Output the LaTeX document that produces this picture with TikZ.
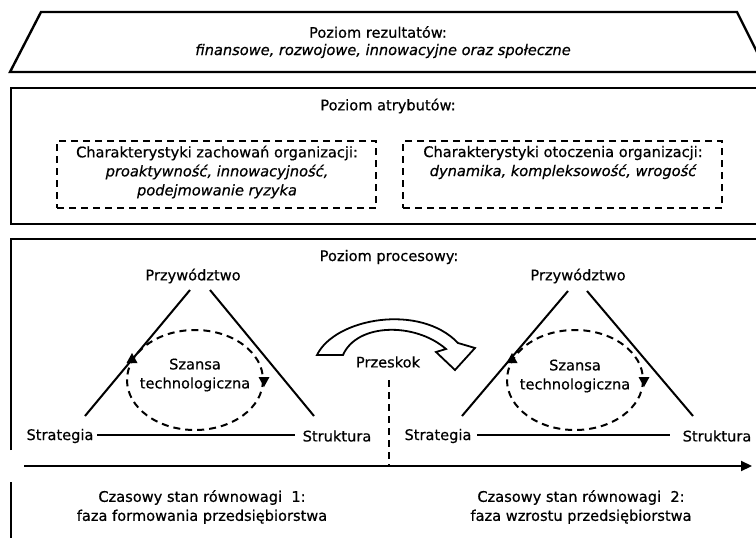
\documentclass[tikz,border=0pt]{standalone}
\usepackage{fontspec}
\setmainfont{DejaVu Sans}[UprightFeatures={FakeBold=0.6}, ItalicFeatures={FakeBold=0.6}]
\usetikzlibrary{arrows.meta}
\begin{document}
\begin{tikzpicture}[x=1pt,y=-1pt,
  txt/.style={font=\fontsize{14.6}{19}\selectfont, inner sep=0pt, align=center, text=black},
  frame/.style={draw=black, line width=2.4pt},
  dbox/.style={draw=black, line width=2.2pt, dash pattern=on 7pt off 5pt},
  side/.style={draw=black, line width=2pt},
  dline/.style={draw=black, line width=2pt, dash pattern=on 7pt off 5pt},
  tip/.style={fill=black, draw=none}]
\useasboundingbox (0,0) rectangle (756,538);
\clip (0,0) rectangle (756,538);

% ---------- level of results ----------
\draw[frame, line join=miter] (41,12) -- (737,12) -- (767,72) -- (10,72) -- cycle;
\node[txt] (res) at (378,32) {Poziom rezultatów:};
\node[txt] (resdesc) at (383,51) {\itshape finansowe, rozwojowe, innowacyjne oraz społeczne};

% ---------- level of attributes ----------
\draw[frame] (11,88) rectangle (775,224);
\node[txt] (attr) at (388,106) {Poziom atrybutów:};
\node[dbox, minimum width=319pt, minimum height=67pt, inner sep=0pt] (box1) at (216.5,174.5) {};
\node[dbox, minimum width=319pt, minimum height=67pt, inner sep=0pt] (box2) at (562.5,174.5) {};
\node[txt] (beh) at (217,172) {Charakterystyki zachowań organizacji:\\\itshape proaktywność, innowacyjność,\\\itshape podejmowanie ryzyka};
\node[txt] (env) at (563,162.5) {Charakterystyki otoczenia organizacji:\\\itshape dynamika, kompleksowość, wrogość};

% ---------- process level ----------
\draw[frame] (11,450) -- (11,239) -- (775,239);
\node[txt] (proc) at (389,257) {Poziom procesowy:};

% left triangle
\node[txt] (lead1) at (193,276) {Przywództwo};
\node[txt] (strat1) at (60,436) {Strategia};
\node[txt] (struc1) at (337,436) {Struktura};
\coordinate (l1a) at (190,290); \coordinate (l1b) at (85,416);
\coordinate (r1a) at (210,290); \coordinate (r1b) at (314,416);
\coordinate (b1a) at (97,435);  \coordinate (b1b) at (295,435);
\draw[side] (l1a) -- (l1b);
\draw[side] (r1a) -- (r1b);
\draw[side] (b1a) -- (b1b);
\draw[dline] (195,380) ellipse [x radius=68, y radius=50];
\node[txt] (opp1) at (195,375) {Szansa\\technologiczna};
\fill[tip] (132,353) -- (137.5,363) -- (126.5,363) -- cycle;
\fill[tip] (264,387) -- (269.5,377) -- (258.5,377) -- cycle;

% right triangle
\node[txt] (lead2) at (578,276) {Przywództwo};
\node[txt] (strat2) at (438,436) {Strategia};
\node[txt] (struc2) at (717,436) {Struktura};
\coordinate (l2a) at (568,291); \coordinate (l2b) at (462,416);
\coordinate (r2a) at (587,291); \coordinate (r2b) at (693,416);
\coordinate (b2a) at (477,435); \coordinate (b2b) at (670,435);
\draw[side] (l2a) -- (l2b);
\draw[side] (r2a) -- (r2b);
\draw[side] (b2a) -- (b2b);
\draw[dline] (575,380) ellipse [x radius=68, y radius=50];
\node[txt] (opp2) at (575,376) {Szansa\\technologiczna};
\fill[tip] (512,353) -- (517.5,363) -- (506.5,363) -- cycle;
\fill[tip] (644,387) -- (649.5,377) -- (638.5,377) -- cycle;

% jump arrow
\draw[draw=black, fill=white, line width=1.8pt, line join=miter]
  (317,355) .. controls (335,318) and (420,303) .. (458,343)
  -- (475,348) -- (455,370) -- (436,352) -- (446,349)
  .. controls (415,322) and (357,323) .. (343,355) -- cycle;
\node[txt] (jump) at (388,362) {Przeskok};

% time axis
\coordinate (ax0) at (24,466);
\coordinate (ax1) at (752,466);
\coordinate (jd) at (389,466);
\draw[dline] (389,380) -- (jd);
\draw[draw=black, line width=2.2pt, -{Triangle[length=11pt,width=10pt]}] (ax0) -- (ax1);

% bottom section
\draw[frame] (11,482) -- (11,545);
\node[txt] (eq1) at (202,507) {Czasowy stan równowagi\ \ 1:\\faza formowania przedsiębiorstwa};
\node[txt] (eq2) at (581,507) {Czasowy stan równowagi\ \ 2:\\faza wzrostu przedsiębiorstwa};
\end{tikzpicture}
\end{document}
